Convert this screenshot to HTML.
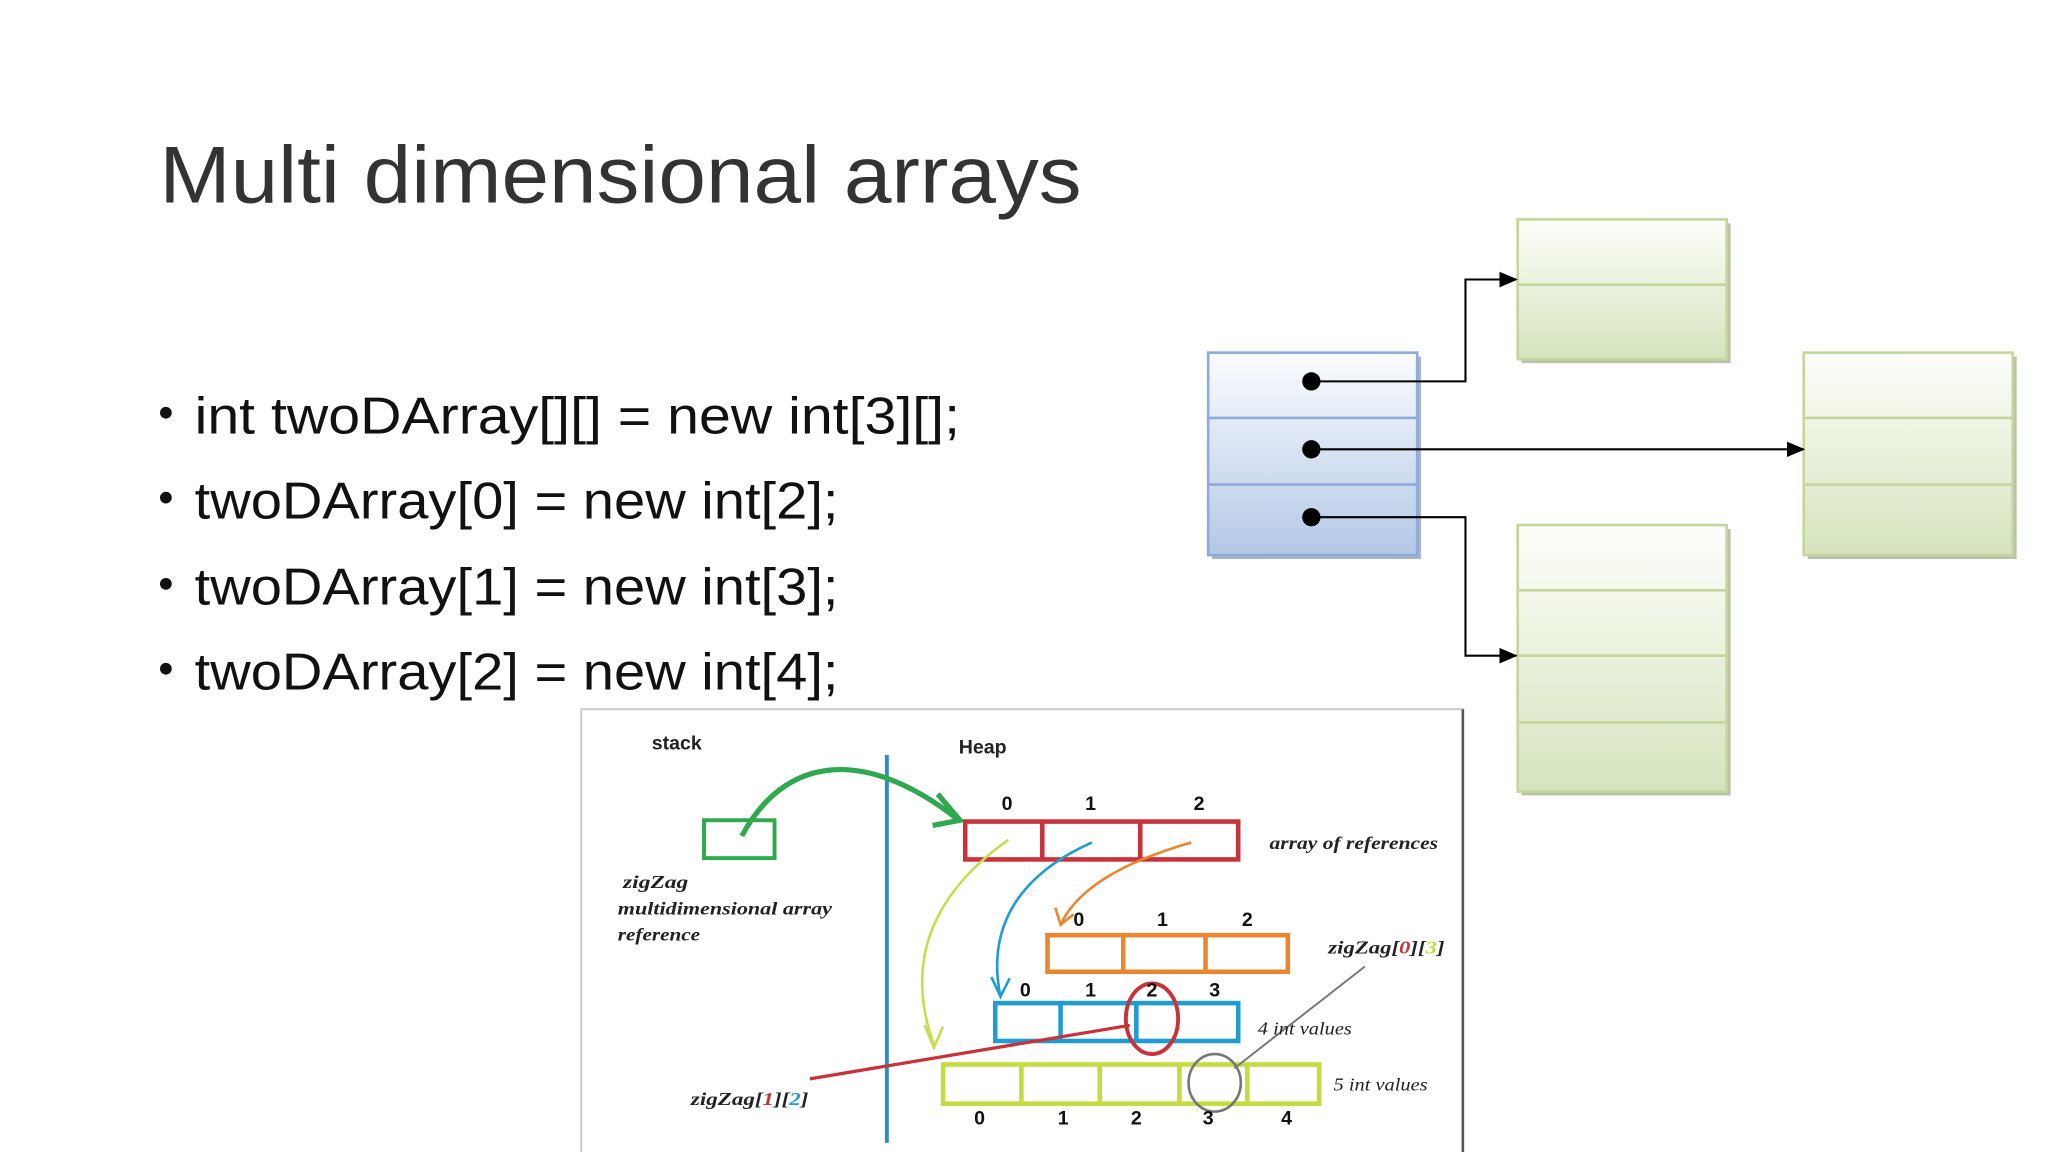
<!DOCTYPE html>
<html><head><meta charset="utf-8"><style>
html,body{margin:0;padding:0;background:#fff;width:2048px;height:1152px;overflow:hidden}
svg{display:block}
</style></head><body>
<svg width="2048" height="1152" viewBox="0 0 1568 882" xmlns="http://www.w3.org/2000/svg" font-family="Liberation Sans, sans-serif">
<defs>
<linearGradient id="gb" x1="0" y1="0" x2="0" y2="1"><stop offset="0" stop-color="#fbfcfe"/><stop offset="1" stop-color="#b3c8e6"/></linearGradient>
<linearGradient id="gg" x1="0" y1="0" x2="0" y2="1"><stop offset="0" stop-color="#fdfefb"/><stop offset="1" stop-color="#d5e4bd"/></linearGradient>
<marker id="ah" markerWidth="14" markerHeight="14" refX="13" refY="6" orient="auto" markerUnits="userSpaceOnUse"><path d="M0,0 L14,6 L0,12z" fill="#000"/></marker>
</defs>
<rect width="1568" height="882" fill="#fff"/>
<text x="122" y="155" font-size="62" fill="#333" textLength="706" lengthAdjust="spacingAndGlyphs">Multi dimensional arrays</text>
<g font-size="40" fill="#111">
<circle cx="127" cy="316" r="4.5"/><text x="149" y="332" textLength="586" lengthAdjust="spacingAndGlyphs">int twoDArray[][] = new int[3][];</text>
<circle cx="127" cy="381" r="4.5"/><text x="149" y="397" textLength="493" lengthAdjust="spacingAndGlyphs">twoDArray[0] = new int[2];</text>
<circle cx="127" cy="447" r="4.5"/><text x="149" y="463" textLength="493" lengthAdjust="spacingAndGlyphs">twoDArray[1] = new int[3];</text>
<circle cx="127" cy="512" r="4.5"/><text x="149" y="528" textLength="493" lengthAdjust="spacingAndGlyphs">twoDArray[2] = new int[4];</text>
</g>
<g>
<rect x="928" y="273" width="160" height="155" fill="#a8b4c8"/>
<rect x="925" y="270" width="160" height="155" fill="url(#gb)" stroke="#8eaadb" stroke-width="2"/>
<line x1="925" y1="320" x2="1085" y2="320" stroke="#8eaadb" stroke-width="2"/>
<line x1="925" y1="371" x2="1085" y2="371" stroke="#8eaadb" stroke-width="2"/>
<rect x="1165" y="171" width="160" height="107" fill="#b8c4a8"/>
<rect x="1162" y="168" width="160" height="107" fill="url(#gg)" stroke="#c3d69b" stroke-width="2"/>
<line x1="1162" y1="218" x2="1322" y2="218" stroke="#c3d69b" stroke-width="2"/>
<rect x="1384" y="273" width="160" height="155" fill="#b8c4a8"/>
<rect x="1381" y="270" width="160" height="155" fill="url(#gg)" stroke="#c3d69b" stroke-width="2"/>
<line x1="1381" y1="320" x2="1541" y2="320" stroke="#c3d69b" stroke-width="2"/>
<line x1="1381" y1="371" x2="1541" y2="371" stroke="#c3d69b" stroke-width="2"/>
<rect x="1165" y="405" width="160" height="204" fill="#b8c4a8"/>
<rect x="1162" y="402" width="160" height="204" fill="url(#gg)" stroke="#c3d69b" stroke-width="2"/>
<line x1="1162" y1="452" x2="1322" y2="452" stroke="#c3d69b" stroke-width="2"/>
<line x1="1162" y1="502" x2="1322" y2="502" stroke="#c3d69b" stroke-width="2"/>
<line x1="1162" y1="553" x2="1322" y2="553" stroke="#c3d69b" stroke-width="2"/>
<g fill="none" stroke="#000" stroke-width="1.6">
<path d="M1004,292 H1122 V214 H1161" marker-end="url(#ah)"/>
<path d="M1004,344 H1381" marker-end="url(#ah)"/>
<path d="M1004,396 H1122 V502 H1161" marker-end="url(#ah)"/>
</g>
<circle cx="1004" cy="292" r="7" fill="#000"/>
<circle cx="1004" cy="344" r="7" fill="#000"/>
<circle cx="1004" cy="396" r="7" fill="#000"/>
</g>
<g>
<rect x="445" y="543" width="675" height="345" fill="#fff" stroke="#c8c8c8" stroke-width="1.5"/>
<line x1="1120" y1="543" x2="1120" y2="882" stroke="#555" stroke-width="2"/>
<text x="499" y="574" font-size="15" font-weight="bold" fill="#222">stack</text>
<text x="734" y="577" font-size="15" font-weight="bold" fill="#222">Heap</text>
<line x1="679" y1="578" x2="679" y2="875" stroke="#2a8fc0" stroke-width="3"/>
<rect x="539" y="628" width="54" height="29" fill="none" stroke="#2fa84f" stroke-width="3"/>
<path d="M568,640 C600,580 660,570 733,627" fill="none" stroke="#2fa84f" stroke-width="4"/>
<path d="M718,608 L735,628 L714,632" fill="none" stroke="#2fa84f" stroke-width="4"/>
<g fill="none" stroke-width="3.5">
<rect x="739" y="629" width="209" height="29" stroke="#c8323a"/>
<line x1="798" y1="629" x2="798" y2="658" stroke="#c8323a"/>
<line x1="873" y1="629" x2="873" y2="658" stroke="#c8323a"/>
<rect x="802" y="716" width="184" height="28" stroke="#e8872f"/>
<line x1="860" y1="716" x2="860" y2="744" stroke="#e8872f"/>
<line x1="923" y1="716" x2="923" y2="744" stroke="#e8872f"/>
<rect x="762" y="768" width="186" height="29" stroke="#1f9cd0"/>
<line x1="812" y1="768" x2="812" y2="797" stroke="#1f9cd0"/>
<line x1="870" y1="768" x2="870" y2="797" stroke="#1f9cd0"/>
<rect x="722" y="815" width="288" height="30" stroke="#c5dc3c"/>
<line x1="782" y1="815" x2="782" y2="845" stroke="#c5dc3c"/>
<line x1="842" y1="815" x2="842" y2="845" stroke="#c5dc3c"/>
<line x1="903" y1="815" x2="903" y2="845" stroke="#c5dc3c"/>
<line x1="955" y1="815" x2="955" y2="845" stroke="#c5dc3c"/>
</g>
<g fill="none" stroke-width="2">
<path d="M772,643 C720,680 690,730 715,800" stroke="#c8dc50"/>
<path d="M708,785 L715,802 L722,786" stroke="#c8dc50"/>
<path d="M836,645 C780,670 755,710 766,763" stroke="#1f9cd0"/>
<path d="M759,748 L766,763 L773,749" stroke="#1f9cd0"/>
<path d="M912,645 C860,660 825,680 812,708" stroke="#e8872f"/>
<path d="M808,695 L812,708 L822,700" stroke="#e8872f"/>
<line x1="620" y1="826" x2="865" y2="785" stroke="#c8323a" stroke-width="2.5"/>
<ellipse cx="882" cy="780" rx="20" ry="27" stroke="#c8323a" stroke-width="3"/>
<ellipse cx="930" cy="829" rx="20" ry="22" stroke="#777"/>
<line x1="945" y1="818" x2="1045" y2="740" stroke="#777" stroke-width="1.5"/>
</g>
<g font-size="15" font-weight="bold" fill="#111" text-anchor="middle">
<text x="771" y="620">0</text><text x="835" y="620">1</text><text x="918" y="620">2</text>
<text x="826" y="709">0</text><text x="890" y="709">1</text><text x="955" y="709">2</text>
<text x="785" y="763">0</text><text x="835" y="763">1</text><text x="882" y="763">2</text><text x="930" y="763">3</text>
<text x="750" y="861">0</text><text x="814" y="861">1</text><text x="870" y="861">2</text><text x="925" y="861">3</text><text x="985" y="861">4</text>
</g>
<g font-family="Liberation Serif, serif" font-style="italic" font-size="14" fill="#222">
<text x="477" y="680" font-weight="bold" textLength="50" lengthAdjust="spacingAndGlyphs">zigZag</text>
<text x="473" y="700" font-weight="bold" textLength="164" lengthAdjust="spacingAndGlyphs">multidimensional array</text>
<text x="473" y="720" font-weight="bold" textLength="63" lengthAdjust="spacingAndGlyphs">reference</text>
<text x="972" y="650" font-weight="bold" textLength="129" lengthAdjust="spacingAndGlyphs">array of references</text>
<text x="1017" y="730" font-weight="bold" textLength="89" lengthAdjust="spacingAndGlyphs">zigZag[<tspan fill="#c8323a">0</tspan>][<tspan fill="#c5dc3c">3</tspan>]</text>
<text x="963" y="792" textLength="72" lengthAdjust="spacingAndGlyphs">4 int values</text>
<text x="1021" y="835" textLength="72" lengthAdjust="spacingAndGlyphs">5 int values</text>
<text x="529" y="846" font-weight="bold" textLength="90" lengthAdjust="spacingAndGlyphs">zigZag[<tspan fill="#c8323a">1</tspan>][<tspan fill="#1f9cd0">2</tspan>]</text>
</g>
</g>
</svg>
</body></html>
